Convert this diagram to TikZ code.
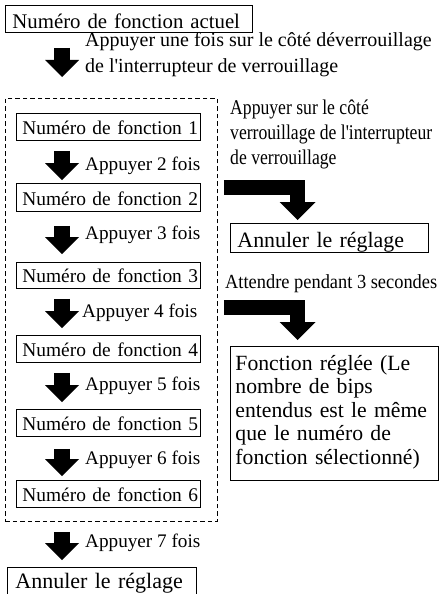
\documentclass[tikz,border=0pt]{standalone}
\usepackage{fontspec}
\setmainfont{Liberation Serif}
\newfontfamily\plainfont{Liberation Serif}
\newfontfamily\condA{Liberation Serif}[FakeStretch=0.84]
\newfontfamily\condB{Liberation Serif}[FakeStretch=0.92]
\usetikzlibrary{arrows.meta,calc}
\begin{document}
\begin{tikzpicture}[x=1pt,y=-1pt,
  box/.style={draw, line width=0.9pt, anchor=north west, inner ysep=0pt, align=left},
  fbox/.style={box, inner xsep=6pt, text width=172pt, text depth=6pt, font=\fontsize{19.4}{24}\selectfont},
  lbl/.style={anchor=base west, inner sep=0pt, font=\fontsize{19.2}{25}\selectfont},
  downarrow/.style={line width=16pt, -{Triangle[width=34pt,length=17pt,line width=0pt]}},
  bentarrow/.style={line width=15pt, -{Triangle[width=36pt,length=18pt,line width=0pt]}}]
\useasboundingbox (0,0) rectangle (441,594);
\coordinate (ax) at (62,0);
% top box
\node[box, inner xsep=7pt, text width=233pt, text height=23.3pt, text depth=3.7pt,
      font=\fontsize{20.8}{24}\selectfont] (top) at (5,5) {\mbox{Numéro de fonction actuel}};
% dashed group
\node[draw, dash pattern=on 4.5pt off 3pt, line width=0.8pt, minimum width=212pt,
      minimum height=423pt, anchor=north west, inner sep=0pt] (grp) at (5,98) {};
% function boxes
\node[fbox, text height=21pt] (b1) at (16,113) {\mbox{Numéro de fonction 1}};
\node[fbox, text height=22pt] (b2) at (16,183) {\mbox{Numéro de fonction 2}};
\node[fbox, text height=20pt] (b3) at (16,262) {\mbox{Numéro de fonction 3}};
\node[fbox, text height=21pt] (b4) at (16,335) {\mbox{Numéro de fonction 4}};
\node[fbox, text height=21pt] (b5) at (16,409) {\mbox{Numéro de fonction 5}};
\node[fbox, text height=21pt] (b6) at (16,480) {\mbox{Numéro de fonction 6}};
% right boxes
\node[box, inner xsep=7pt, text width=184pt, text height=23.7pt, text depth=5.3pt,
      font=\fontsize{21.9}{25}\selectfont] (r1) at (230,223) {\mbox{Annuler le réglage}};
\node[box, inner xsep=5pt, text width=198pt, text height=24pt, text depth=110pt,
      font=\fontsize{21.7}{23.5}\selectfont] (r2) at (230,346)
      {\mbox{Fonction réglée (Le}\\\mbox{nombre de bips}\\\mbox{entendus est le même}\\\mbox{que le numéro de}\\\mbox{fonction sélectionné)}};
% bottom box
\node[box, inner xsep=8pt, text width=173pt, text height=21pt, text depth=10pt,
      font=\fontsize{22}{25}\selectfont] (bot) at (7,567) {\mbox{Annuler le réglage}};
% labels
\node[lbl, align=left, font=\plainfont\fontsize{20}{25}\selectfont] (l1) at (85,72) {Appuyer une fois sur le côté déverrouillage\\de l'interrupteur de verrouillage};
\node[lbl] (l2) at (85,170) {Appuyer 2 fois};
\node[lbl] (l3) at (85,239) {Appuyer 3 fois};
\node[lbl] (l4) at (82,317) {Appuyer 4 fois};
\node[lbl] (l5) at (85,390) {Appuyer 5 fois};
\node[lbl] (l6) at (85,464) {Appuyer 6 fois};
\node[lbl] (l7) at (85,547) {Appuyer 7 fois};
\node[lbl, align=left, font=\condA\fontsize{21}{25}\selectfont] (t1) at (230,164)
      {Appuyer sur le côté\\verrouillage de l'interrupteur\\de verrouillage};
\node[lbl, font=\condB\fontsize{20}{24}\selectfont] (t2) at (225,288) {Attendre pendant 3 secondes};
% down arrows
\draw[downarrow] ($(top.south -| ax)+(0,15)$) -- ($(grp.north -| ax)+(0,-21)$);
\draw[downarrow] ($(b1.south -| ax)+(0,10)$) -- ($(b2.north -| ax)+(0,-3)$);
\draw[downarrow] ($(b2.south -| ax)+(0,14)$) -- ($(b3.north -| ax)+(0,-8)$);
\draw[downarrow] ($(b3.south -| ax)+(0,10)$) -- ($(b4.north -| ax)+(0,-7)$);
\draw[downarrow] ($(b4.south -| ax)+(0,10)$) -- ($(b5.north -| ax)+(0,-7)$);
\draw[downarrow] ($(b5.south -| ax)+(0,12)$) -- ($(b6.north -| ax)+(0,-4)$);
\draw[downarrow] ($(grp.south -| ax)+(0,10)$) -- ($(bot.north -| ax)+(0,-7)$);
% bent arrows
\draw[bentarrow] ($(b2.north -| grp.east)+(6,4.5)$) -| ($(r1.north west)+(67.5,-3)$);
\draw[bentarrow] ($(b3.south -| grp.east)+(6,18.5)$) -| ($(r2.north west)+(67.5,-6)$);
\end{tikzpicture}
\end{document}
